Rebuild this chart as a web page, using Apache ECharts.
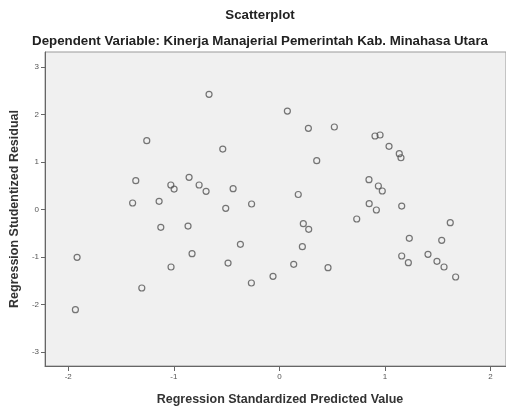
<!DOCTYPE html>
<html>
<head>
<meta charset="utf-8">
<script src="https://cdn.jsdelivr.net/npm/echarts@6/dist/echarts.min.js"></script>
<style>
html,body{margin:0;padding:0;background:#fff;}
#chart{width:506px;height:407px;}
</style>
</head>
<body>
<div id="chart"></div>
<script>
var titleText = "Scatterplot";
var subtitleText = "Dependent Variable: Kinerja Manajerial Pemerintah Kab. Minahasa Utara";
var xAxisTitle = "Regression Standardized Predicted Value";
var yAxisTitle = "Regression Studentized Residual";
var xTicks = [-2, -1, 0, 1, 2];
var yTicks = [-3, -2, -1, 0, 1, 2, 3];

var predicted = [
  -0.666, -1.256, -0.536, -1.360, -0.855, -1.028, -0.997, -0.760, -0.694, -0.438,
  -1.390, -1.139, -0.263, -0.508, -1.123, -0.865, -0.369, -0.827, -1.026, -0.486,
  -1.916, -0.265, -1.303, -1.932, 0.076, 0.275, 0.521, 0.354, 0.906, 0.954,
  1.039, 1.136, 1.152, 0.179, 0.849, 0.938, 0.975, 0.851, 0.919, 1.159,
  0.733, 0.227, 0.278, 1.619, 0.218, 1.231, 1.538, 0.136, -0.060, 0.461,
  1.159, 1.222, 1.408, 1.493, 1.560, 1.670
];
var residual = [
  2.42, 1.444, 1.269, 0.602, 0.674, 0.512, 0.427, 0.512, 0.379, 0.434,
  0.133, 0.168, 0.112, 0.021, -0.379, -0.352, -0.737, -0.935, -1.215, -1.131,
  -1.011, -1.552, -1.657, -2.114, 2.069, 1.705, 1.733, 1.023, 1.543, 1.564,
  1.326, 1.171, 1.086, 0.312, 0.623, 0.491, 0.385, 0.118, -0.015, 0.069,
  -0.204, -0.303, -0.421, -0.282, -0.787, -0.611, -0.653, -1.158, -1.411, -1.229,
  -0.983, -1.124, -0.947, -1.095, -1.215, -1.425
];

var points = predicted.map(function (x, i) { return [x, residual[i]]; });

var chart = echarts.init(document.getElementById('chart'), null, {renderer: 'canvas'});
var font = 'Liberation Sans, Arial, sans-serif';
chart.setOption({
  backgroundColor: '#ffffff',
  animation: false,
  title: [
    {text: titleText, left: 260, top: 9, padding: 0, textAlign: 'center',
     textStyle: {fontFamily: font, fontSize: 13.3, fontWeight: 'bold', color: '#222'}},
    {text: subtitleText, left: 260, top: 35, padding: 0, textAlign: 'center',
     textStyle: {fontFamily: font, fontSize: 13.3, fontWeight: 'bold', color: '#222'}}
  ],
  grid: {left: 45, top: 52, right: 0, bottom: 41, show: true, outerBoundsMode: 'none',
         containLabel: false,
         backgroundColor: '#f0f0f0', borderColor: '#999', borderWidth: 1},
  xAxis: {
    type: 'value', min: -2.22, max: 2.147,
    name: xAxisTitle, nameLocation: 'middle', nameGap: 27,
    nameTextStyle: {fontFamily: font, fontSize: 12.5, fontWeight: 'bold', color: '#333',
                    padding: [0, 0, 0, 9]},
    axisLine: {show: true, onZero: false, lineStyle: {color: '#666', width: 1}},
    axisTick: {show: true, length: 5, customValues: xTicks, lineStyle: {color: '#666'}},
    axisLabel: {customValues: xTicks, fontFamily: font, fontSize: 8, color: '#555', margin: 7},
    splitLine: {show: false}
  },
  yAxis: {
    type: 'value', min: -3.299, max: 3.312,
    name: yAxisTitle, nameLocation: 'middle', nameGap: 24, nameRotate: 90,
    nameTextStyle: {fontFamily: font, fontSize: 12.5, fontWeight: 'bold', color: '#333'},
    axisLine: {show: true, onZero: false, lineStyle: {color: '#666', width: 1}},
    axisTick: {show: true, length: 4, customValues: yTicks, lineStyle: {color: '#666'}},
    axisLabel: {customValues: yTicks, fontFamily: font, fontSize: 8, color: '#555', margin: 6},
    splitLine: {show: false}
  },
  series: [{
    type: 'scatter',
    data: points,
    symbol: 'circle',
    symbolSize: 6,
    itemStyle: {color: 'rgba(0,0,0,0)', borderColor: '#555', borderWidth: 1.2}
  }]
});
</script>
</body>
</html>
